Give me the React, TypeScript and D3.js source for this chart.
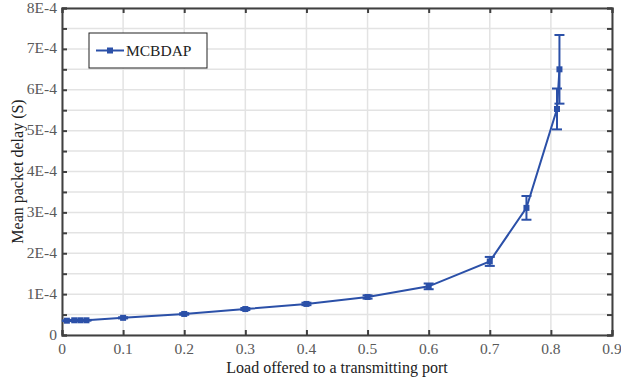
import React, { useEffect, useRef } from 'react';
import * as d3 from 'd3';

// data (delay in units of 1E-4 s)
const loads = [0.008, 0.02, 0.03, 0.04, 0.1, 0.2, 0.3, 0.4, 0.5, 0.6, 0.7, 0.76, 0.81, 0.814];
const delays = [0.35, 0.36, 0.36, 0.36, 0.42, 0.515, 0.635, 0.76, 0.93, 1.19, 1.8, 3.11, 5.53, 6.5];
const errors = [0.01, 0.01, 0.01, 0.01, 0.015, 0.02, 0.025, 0.03, 0.04, 0.07, 0.11, 0.29, 0.5, 0.84];
const xTicks = [0, 0.1, 0.2, 0.3, 0.4, 0.5, 0.6, 0.7, 0.8, 0.9];
const xTickLabels = ['0', '0.1', '0.2', '0.3', '0.4', '0.5', '0.6', '0.7', '0.8', '0.9'];
const yTicks = [0, 1, 2, 3, 4, 5, 6, 7, 8];
const yTickLabels = ['0', '1E-4', '2E-4', '3E-4', '4E-4', '5E-4', '6E-4', '7E-4', '8E-4'];
const yMinorTicks = d3.range(0, 8.01, 0.5);
const seriesName = 'MCBDAP';

const W = 621;
const H = 381;
const margin = { top: 8, right: 9, bottom: 46, left: 62 };
const blue = '#2b50a8';
const axisColor = '#404040';
const textColor = '#595959';
const font = 'Liberation Serif, Times New Roman, serif';

const App = () => {
  const node = useRef<SVGSVGElement>(null);

  useEffect(() => {
    const svg = d3.select(node.current);
    svg.selectAll('*').remove();

    const w = W - margin.left - margin.right;
    const h = H - margin.top - margin.bottom;

    const x = d3.scaleLinear().domain([0, 0.9]).range([0, w]);
    const y = d3.scaleLinear().domain([0, 8]).range([h, 0]);

    const main = svg.append('g')
      .attr('transform', `translate(${margin.left}, ${margin.top})`);

    // grid
    main.append('g').selectAll('line').data(xTicks).enter()
      .append('line')
      .attr('x1', d => x(d)).attr('x2', d => x(d))
      .attr('y1', 0).attr('y2', h)
      .attr('stroke', '#e3e3e3').attr('stroke-width', 1.5);
    main.append('g').selectAll('line').data(yMinorTicks).enter()
      .append('line')
      .attr('x1', 0).attr('x2', w)
      .attr('y1', d => y(d)).attr('y2', d => y(d))
      .attr('stroke', '#e3e3e3').attr('stroke-width', 1.5);

    // axes (inward ticks on all sides, labels drawn separately)
    const axes = [
      main.append('g').attr('transform', `translate(0, ${h})`)
        .call(d3.axisBottom(x).tickValues(xTicks).tickSize(-5).tickFormat(() => '')),
      main.append('g')
        .call(d3.axisTop(x).tickValues(xTicks).tickSize(-5).tickFormat(() => '')),
      main.append('g')
        .call(d3.axisLeft(y).tickValues(yMinorTicks).tickSize(-5).tickFormat(() => '')),
      main.append('g').attr('transform', `translate(${w}, 0)`)
        .call(d3.axisRight(y).tickValues(yMinorTicks).tickSize(-5).tickFormat(() => '')),
    ];
    axes.forEach(g => {
      g.select('.domain').attr('stroke', axisColor).attr('stroke-width', 2);
      g.selectAll('.tick line').attr('stroke', axisColor).attr('stroke-width', 2);
    });

    // tick labels
    main.append('g').selectAll('text').data(xTicks).enter()
      .append('text')
      .attr('x', d => x(d))
      .attr('y', h + 19)
      .attr('text-anchor', 'middle')
      .attr('fill', textColor)
      .attr('font-family', font)
      .attr('font-size', 15.5)
      .text((d, i) => xTickLabels[i]);
    main.append('g').selectAll('text').data(yTicks).enter()
      .append('text')
      .attr('x', -5)
      .attr('y', d => y(d) + 4.5)
      .attr('text-anchor', 'end')
      .attr('fill', textColor)
      .attr('font-family', font)
      .attr('font-size', 15.5)
      .text((d, i) => yTickLabels[i]);

    // line
    const pts = loads.map((l, i) => ({ l, d: delays[i], e: errors[i] }));
    main.append('path')
      .datum(pts)
      .attr('fill', 'none')
      .attr('stroke', blue)
      .attr('stroke-width', 2)
      .attr('d', d3.line<{ l: number; d: number }>().x(p => x(p.l)).y(p => y(p.d)));

    // error bars
    const eb = main.append('g').attr('stroke', blue).attr('stroke-width', 2);
    pts.forEach(p => {
      const cx = x(p.l);
      const y0 = y(p.d - p.e);
      const y1 = y(p.d + p.e);
      eb.append('line').attr('x1', cx).attr('x2', cx).attr('y1', y0).attr('y2', y1);
      eb.append('line').attr('x1', cx - 5).attr('x2', cx + 5).attr('y1', y0).attr('y2', y0);
      eb.append('line').attr('x1', cx - 5).attr('x2', cx + 5).attr('y1', y1).attr('y2', y1);
    });

    // markers
    main.append('g').selectAll('rect').data(pts).enter()
      .append('rect')
      .attr('x', p => x(p.l) - 3)
      .attr('y', p => y(p.d) - 3)
      .attr('width', 6)
      .attr('height', 6)
      .attr('fill', blue);

    // legend
    const lg = main.append('g').attr('transform', 'translate(27, 25)');
    lg.append('rect')
      .attr('width', 118).attr('height', 35)
      .attr('fill', '#fff').attr('stroke', '#222').attr('stroke-width', 1);
    lg.append('line')
      .attr('x1', 7).attr('x2', 35).attr('y1', 17.5).attr('y2', 17.5)
      .attr('stroke', blue).attr('stroke-width', 2);
    lg.append('rect')
      .attr('x', 18).attr('y', 14.5).attr('width', 6).attr('height', 6)
      .attr('fill', blue);
    lg.append('text')
      .attr('x', 37).attr('y', 23)
      .attr('fill', '#222')
      .attr('font-family', font)
      .attr('font-size', 15.5)
      .text(seriesName);

    // axis titles
    svg.append('text')
      .attr('x', margin.left + w / 2)
      .attr('y', H - 8)
      .attr('text-anchor', 'middle')
      .attr('fill', '#222')
      .attr('font-family', font)
      .attr('font-size', 16)
      .text('Load offered to a transmitting port');
    svg.append('text')
      .attr('transform', `translate(23, ${margin.top + h / 2}) rotate(-90)`)
      .attr('text-anchor', 'middle')
      .attr('fill', '#222')
      .attr('font-family', font)
      .attr('font-size', 16)
      .text('Mean packet delay (S)');
  }, []);

  return (
    <svg
      ref={node}
      width={W}
      height={H}
      style={{ position: 'absolute', left: 0, top: 0, background: '#fff' }}
    />
  );
};

export default App;
